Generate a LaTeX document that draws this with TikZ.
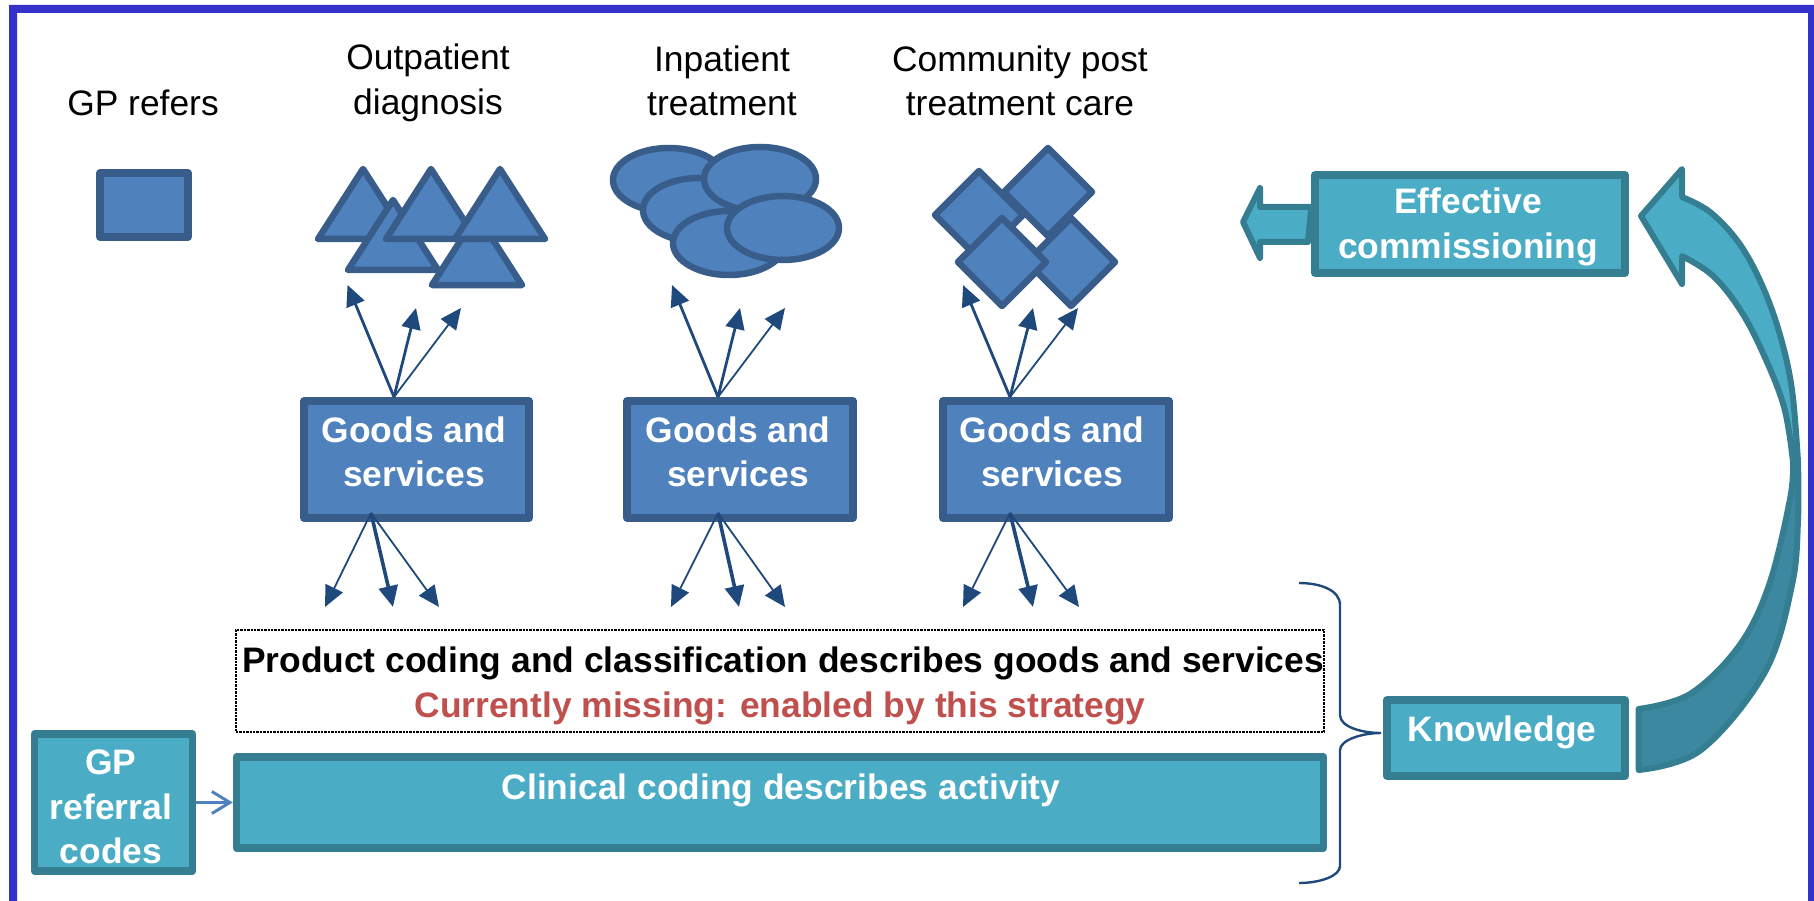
\documentclass[tikz,border=0pt]{standalone}
\usepackage{fontspec}
\setmainfont{Liberation Sans}
\usetikzlibrary{arrows.meta}
\definecolor{fblue}{HTML}{4F81BD}
\definecolor{sblue}{HTML}{385D8A}
\definecolor{fteal}{HTML}{4BACC6}
\definecolor{steal}{HTML}{357D91}
\definecolor{dteal}{HTML}{3C88A0}
\definecolor{darrow}{HTML}{1F497D}
\definecolor{frameblue}{HTML}{3333CC}
\definecolor{redtxt}{HTML}{C0504D}
\tikzset{
  x=1pt,y=-1pt,
  txt/.style={font=\fontsize{35.4}{44.5}\selectfont,align=center,inner sep=0pt},
  btxt/.style={txt,font=\fontsize{35.4}{44.5}\selectfont\bfseries},
  wtxt/.style={btxt,text=white},
  bluebox/.style={draw=sblue,fill=fblue,line width=7.5pt,inner sep=0pt,line join=round},
  tealbox/.style={draw=steal,fill=fteal,line width=7.5pt,inner sep=0pt,line join=round},
  blueshape/.style={draw=sblue,fill=fblue,line width=6.5pt,line join=round},
  tealshape/.style={draw=steal,fill=fteal,line width=6pt,line join=round},
  thickarrow/.style={draw=darrow,line width=2.8pt,-{Triangle[length=21pt,width=19pt,fill=darrow]}},
  heavyarrow/.style={draw=darrow,line width=3.6pt,-{Triangle[length=21pt,width=19pt,fill=darrow]}},
  thinarrow/.style={draw=darrow,line width=1.8pt,-{Triangle[length=21pt,width=19pt,fill=darrow]}},
}
\begin{document}
\begin{tikzpicture}
\useasboundingbox (0,0) rectangle (1814,901);
% frame
\fill[frameblue] (9,901) -- (9,5) -- (1814,5) -- (1814,901) -- (1808,901) -- (1808,13) -- (17,13) -- (17,901) -- cycle;

% top labels
\node[txt] (l1) at (143,103) {GP refers};
\node[txt] (l2) at (428,83) {Outpatient\\diagnosis};
\node[txt] (l3) at (722,81) {Inpatient\\treatment};
\node[txt] (l4) at (1020,81) {Community post\\treatment care};

% GP refers square
\node[bluebox,minimum width=88pt,minimum height=64pt] (sq) at (144,205) {};

% triangles
\foreach \a/\b/\c in {363/169/239, 393/200/270, 477/215/285, 431/169/239, 500/169/239}{
  \draw[blueshape] (\a,\b) -- (\a+45,\c) -- (\a-45,\c) -- cycle;
}

% ellipses
\foreach \cx/\cy in {669/180, 699/210, 760/179, 729/243, 783/228}{
  \draw[blueshape] (\cx,\cy) ellipse [x radius=56, y radius=32];
}

% diamonds
\foreach \cx/\cy in {1071/262, 1048/192, 979/215, 1002/262}{
  \draw[blueshape] (\cx,\cy-44) -- (\cx+44,\cy) -- (\cx,\cy+44) -- (\cx-44,\cy) -- cycle;
}

% goods boxes
\node[bluebox,minimum width=225pt,minimum height=117pt] (g1) at (416.5,459.5) {};
\node[bluebox,minimum width=226pt,minimum height=117pt] (g2) at (740,459.5) {};
\node[bluebox,minimum width=226pt,minimum height=117pt] (g3) at (1056,459.5) {};
\node[wtxt] (t1) at (414,452) {Goods and\\services};
\node[wtxt] (t2) at (738,452) {Goods and\\services};
\node[wtxt] (t3) at (1052,452) {Goods and\\services};

% arrow sources and tips
\coordinate (u1) at (394,397);
\coordinate (u2) at (718,397);
\coordinate (u3) at (1010,397);
\coordinate (d1) at (371,513);
\coordinate (d2) at (718,513);
\coordinate (d3) at (1010,513);
\draw[thickarrow] (u1) -- (347.5,285);
\draw[thickarrow] (u1) -- (416,308);
\draw[thinarrow]  (u1) -- (461,308);
\draw[thickarrow] (u2) -- (672,285);
\draw[thickarrow] (u2) -- (740,308);
\draw[thinarrow]  (u2) -- (785,308);
\draw[thickarrow] (u3) -- (963,285);
\draw[thickarrow] (u3) -- (1033,308);
\draw[thinarrow]  (u3) -- (1078,308);
\draw[thinarrow]  (d1) -- (325,607);
\draw[heavyarrow] (d1) -- (393,607);
\draw[thinarrow]  (d1) -- (439,607);
\draw[thinarrow]  (d2) -- (671,607);
\draw[heavyarrow] (d2) -- (739,607);
\draw[thinarrow]  (d2) -- (785,607);
\draw[thinarrow]  (d3) -- (963,607);
\draw[heavyarrow] (d3) -- (1033,607);
\draw[thinarrow]  (d3) -- (1079,607);

% product coding box
\node[draw=black,densely dotted,line width=2.4pt,minimum width=1088pt,minimum height=102pt,inner sep=0pt] (pc) at (780,681) {};
\node[btxt] (pt) at (783,663) {Product coding and classification describes goods and services};
\node[btxt,text=redtxt] (pr) at (780,708) {Currently missing: enabled by this strategy};

% clinical coding
\node[tealbox,minimum width=1087pt,minimum height=91pt] (cc) at (780,802.5) {};
\node[wtxt] (ct) at (781,790) {Clinical coding describes activity};

% GP referral codes
\node[tealbox,minimum width=158pt,minimum height=137pt] (gp) at (113.5,802.5) {};
\node[wtxt] (gt) at (111,807) {GP\\referral\\codes};
\draw[draw=fblue,line width=3pt,-{Straight Barb[length=18pt,width=22pt,line width=3pt]}] (gp.east) -- (cc.west);

% knowledge
\node[tealbox,minimum width=238pt,minimum height=76pt] (kn) at (1506,738) {};
\node[wtxt] (kt) at (1502,732) {Knowledge};

% effective commissioning
\node[tealbox,minimum width=310pt,minimum height=98pt] (ec) at (1470,224) {};
\node[wtxt] (et) at (1468,227) {Effective\\commissioning};

% small left arrow
\draw[tealshape] (ec.west) ++(0,-17) -- (1260,207) -- (1260,188) -- (1243,222) -- (1260,258) -- (1260,242) -- (1308,242) -- cycle;

% brace
\coordinate (br) at (1381,733);
\draw[darrow,line width=2.4pt] (1299,583) .. controls (1320,583) and (1340,590) .. (1340,605)
  -- (1340,715) .. controls (1340,727) and (1362,733) .. (br)
  .. controls (1362,733) and (1340,740) .. (1340,750)
  -- (1340,866) .. controls (1340,876) and (1320,883) .. (1299,883);

% curved arrow
\draw[draw=steal,fill=dteal,line width=6pt,line join=round]
  plot[smooth,tension=0.6] coordinates {(1638.6,709) (1690,694) (1739,646) (1769,585) (1790,499) (1793,462)}
  -- plot[smooth,tension=0.6] coordinates {(1798,462) (1798,520) (1792,585) (1765,672) (1701,750) (1638.6,770)}
  -- cycle;
\draw[tealshape]
  plot[smooth,tension=0.6] coordinates {(1682,197) (1710,212) (1739,243) (1762,285) (1780,335) (1792,390) (1798,462)}
  -- plot[smooth,tension=0.6] coordinates {(1793,462) (1784,407) (1762,351) (1739,308) (1712,275) (1682,256)}
  -- (1682,284) -- (1641,216) -- (1682,169) -- cycle;
\end{tikzpicture}
\end{document}
